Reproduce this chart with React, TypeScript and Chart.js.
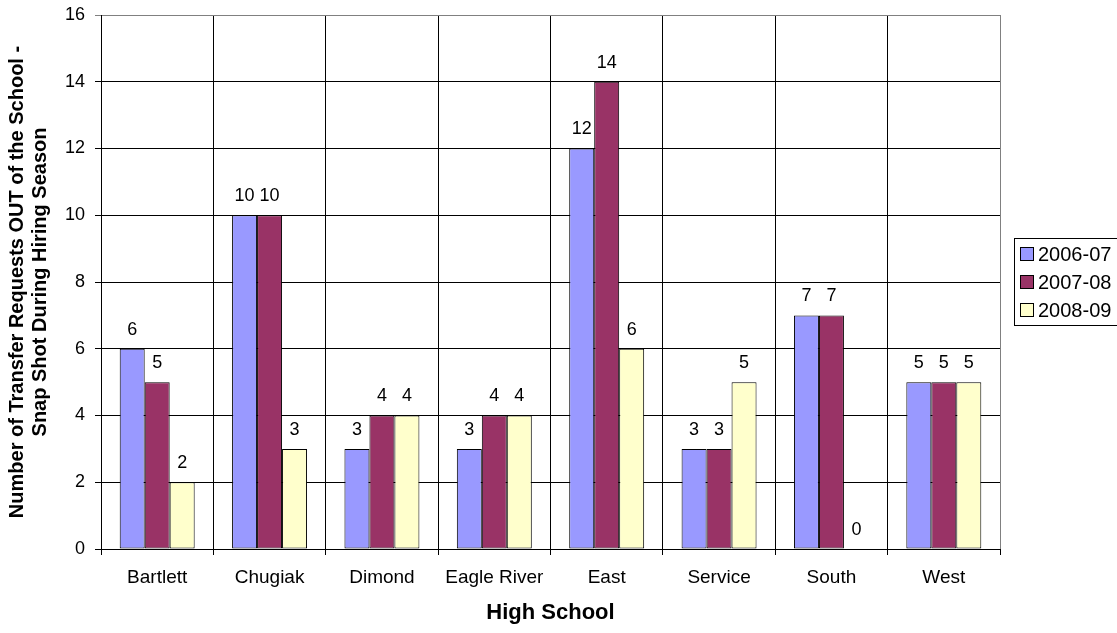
import React, { useEffect, useRef } from "react";
import { Chart, registerables } from "chart.js";

Chart.register(...registerables);

const categories = ["Bartlett", "Chugiak", "Dimond", "Eagle River", "East", "Service", "South", "West"];
const seriesNames = ["2006-07", "2007-08", "2008-09"];
const values0607 = [6, 10, 3, 3, 12, 3, 7, 5];
const values0708 = [5, 10, 4, 4, 14, 3, 7, 5];
const values0809 = [2, 3, 4, 4, 6, 5, 0, 5];
const seriesColors = ["#9999FF", "#993366", "#FFFFCC"];
const yTitleLines = ["Number of Transfer Requests OUT of the School -", "Snap Shot During Hiring Season"];
const xTitle = "High School";

const FONT = "'Liberation Sans', Arial, Helvetica, sans-serif";

export default function App() {
  const ref = useRef<HTMLCanvasElement | null>(null);

  useEffect(() => {
    document.body.style.margin = "0";
    const canvas = ref.current!;
    const overlay = {
      id: "overlay",
      afterDatasetsDraw(chart: any) {
        const ctx = chart.ctx;
        ctx.save();
        ctx.fillStyle = "#000";
        ctx.font = `18px ${FONT}`;
        ctx.textAlign = "center";
        ctx.textBaseline = "middle";
        chart.data.datasets.forEach((ds: any, i: number) => {
          const meta = chart.getDatasetMeta(i);
          meta.data.forEach((bar: any, j: number) => {
            ctx.fillText(String(ds.data[j]), bar.x, bar.y - 19);
          });
        });
        ctx.restore();
      },
      afterDraw(chart: any) {
        const ctx = chart.ctx;
        const a = chart.chartArea;
        ctx.save();
        // right border gray
        ctx.strokeStyle = "#808080";
        ctx.lineWidth = 1;
        ctx.beginPath();
        ctx.moveTo(Math.round(a.right) + 0.5, a.top);
        ctx.lineTo(Math.round(a.right) + 0.5, a.bottom);
        ctx.stroke();

        // y title
        ctx.fillStyle = "#000";
        ctx.font = `bold 20px ${FONT}`;
        ctx.textAlign = "center";
        ctx.textBaseline = "middle";
        const cy = 282;
        [17, 40].forEach((x, i) => {
          ctx.save();
          ctx.translate(x, cy);
          ctx.rotate(-Math.PI / 2);
          ctx.fillText(yTitleLines[i], 0, 0);
          ctx.restore();
        });

        // x title
        ctx.font = `bold 22px ${FONT}`;
        ctx.fillText(xTitle, (a.left + a.right) / 2, 613);

        // legend
        ctx.strokeStyle = "#000";
        ctx.strokeRect(1014.5, 238.5, 120, 87);
        ctx.font = `20px ${FONT}`;
        ctx.textAlign = "left";
        const ys = [254, 282, 310];
        seriesNames.forEach((n, i) => {
          ctx.fillStyle = seriesColors[i];
          ctx.fillRect(1020.5, ys[i] - 6.5, 13, 13);
          ctx.strokeStyle = "#000";
          ctx.strokeRect(1020.5, ys[i] - 6.5, 13, 13);
          ctx.fillStyle = "#000";
          ctx.fillText(n, 1038, ys[i] + 1);
        });
        ctx.restore();
      },
    };

    const chart = new Chart(canvas, {
      type: "bar",
      data: {
        labels: categories,
        datasets: [values0607, values0708, values0809].map((d, i) => ({
          label: seriesNames[i],
          data: d,
          backgroundColor: seriesColors[i],
          borderColor: "#000",
          borderWidth: 1,
          borderSkipped: false,
          categoryPercentage: 0.667,
          barPercentage: 1,
        })),
      },
      options: {
        responsive: false,
        animation: false,
        devicePixelRatio: 1,
        layout: { padding: { top: 15, right: 117, left: 0, bottom: 0 } },
        plugins: { legend: { display: false }, tooltip: { enabled: false }, title: { display: false } },
        scales: {
          x: {
            offset: true,
            grid: {
              offset: true,
              color: "#000",
              lineWidth: 1,
              tickLength: 6,
            },
            border: { color: "#000" },
            ticks: { color: "#000", font: { family: FONT, size: 19 }, padding: 11, maxRotation: 0, autoSkip: false },
            afterFit: (s: any) => {
              s.height = 633 - 549;
              s.paddingLeft = 0;
              s.paddingRight = 0;
            },
          },
          y: {
            min: 0,
            max: 16,
            ticks: { stepSize: 2, color: "#000", font: { family: FONT, size: 18 }, padding: 10 },
            grid: {
              color: (c: any) => (c.tick && c.tick.value === 16 ? "#808080" : "#000"),
              lineWidth: 1,
              tickLength: 6,
            },
            border: { color: "#000" },
            afterFit: (s: any) => {
              s.width = 101;
              s.paddingTop = 0;
              s.paddingBottom = 0;
            },
          },
        },
      },
      plugins: [overlay],
    });
    return () => chart.destroy();
  }, []);

  return (
    <div style={{ position: "absolute", left: 0, top: 0, width: 1117, height: 633, background: "#fff" }}>
      <canvas ref={ref} width={1117} height={633} style={{ width: 1117, height: 633 }} />
    </div>
  );
}
